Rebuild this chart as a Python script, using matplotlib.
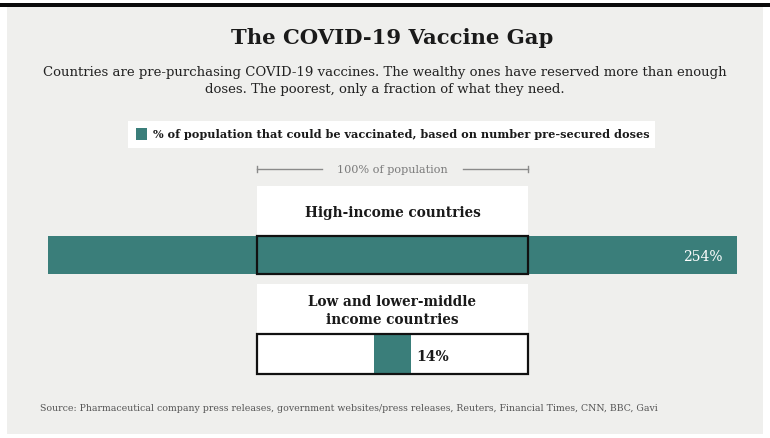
'''
COVID-19 疫苗缺口 图表
'''
import matplotlib
matplotlib.use("Agg")
import matplotlib.pyplot as plt
from matplotlib.patches import Rectangle
import numpy as np

# 数据
groups = ["High-income countries", "Low and lower-middle\nincome countries"]
pct = np.array([254, 14])
legend_label = "% of population that could be vaccinated, based on number pre-secured doses"
ref_label = "100% of population"
title = "The COVID-19 Vaccine Gap"
subtitle = ("Countries are pre-purchasing COVID-19 vaccines. The wealthy ones have reserved more than enough\n"
            "doses. The poorest, only a fraction of what they need.")
source = ("Source: Pharmaceutical company press releases, government websites/press releases, "
          "Reuters, Financial Times, CNN, BBC, Gavi")

teal = "#3a7e7a"
bg = "#efefed"
plt.rcParams['font.family'] = ['DejaVu Serif']

W, H = 770, 439
CX = 392.5          # 中心像素
UNIT = 271 / 100.0  # 每 1% 对应的像素

def px(x):
    # 像素 -> 百分比坐标
    return (x - CX) / UNIT

fig = plt.figure(figsize=(W / 100, H / 100), dpi=100)
fig.patch.set_facecolor("white")
ax = fig.add_axes([0, 0, 1, 1])
ax.set_xlim(px(0), px(W))
ax.set_ylim(H, 0)
ax.axis("off")

# 背景面板 和 顶部黑线
ax.add_patch(Rectangle((px(7), 8), px(763) - px(7), 427, facecolor=bg, edgecolor="none", zorder=0))
ax.add_patch(Rectangle((px(0), 3.5), px(W) - px(0), 4, facecolor="#0a0a0a", edgecolor="none", zorder=1))

# 标题
ax.text(0, 38, title, ha="center", va="center", fontsize=15.2, fontweight="bold", color="#1a1a1a")
ax.text(px(385), 81, subtitle, ha="center", va="center", fontsize=9.5, color="#222222",
        linespacing=1.45)

# 图例
ax.add_patch(Rectangle((px(128), 122), px(655) - px(128), 27, facecolor="white", edgecolor="none", zorder=1))
ax.add_patch(Rectangle((px(136), 129), px(147) - px(136), 12, facecolor=teal, edgecolor="none", zorder=2))
ax.text(px(153), 135, legend_label, ha="left", va="center", fontsize=8.1, fontweight="bold",
        color="#1a1a1a", zorder=3)

# 100% 标尺
gray = "#8a8a8a"
ax.plot([-50, px(322)], [170, 170], color=gray, lw=1)
ax.plot([px(463), 50], [170, 170], color=gray, lw=1)
ax.plot([-50, -50], [167, 173], color=gray, lw=1)
ax.plot([50, 50], [167, 173], color=gray, lw=1)
ax.text(0, 170, ref_label, ha="center", va="center", fontsize=8.1, color="#7a7a7a")

# 各组
row_y = [256, 355]
row_h = [38, 40]
label_top = [187, 285]
for i in range(len(groups)):
    y = row_y[i]
    h = row_h[i]
    # 标签的白色底
    ax.add_patch(Rectangle((-50, label_top[i]), 100, (y - h / 2) - label_top[i],
                           facecolor="white", edgecolor="none", zorder=1))
    ax.text(0, (label_top[i] + y - h / 2) / 2 + 1, groups[i], ha="center", va="center",
            fontsize=9.8, fontweight="bold", color="#1a1a1a", linespacing=1.4, zorder=3)
    # 100% 白色框
    ax.barh(y, 100, left=-50, height=h, color="white", zorder=2)
    # 数据条
    ax.barh(y, pct[i], left=-pct[i] / 2, height=h, color=teal, zorder=3)
    # 黑色边框
    ax.barh(y, 100, left=-50, height=h, fill=False, edgecolor="#111111", lw=1.6, zorder=4)
    # 数值
    if pct[i] > 100:
        ax.text(pct[i] / 2 - 14 / UNIT, y + 1, "%d%%" % pct[i], ha="right", va="center",
                fontsize=10, color="white", zorder=5)
    else:
        ax.text(pct[i] / 2 + 5 / UNIT, y + 2, "%d%%" % pct[i], ha="left", va="center",
                fontsize=10, fontweight="bold", color="#1a1a1a", zorder=5)

# 来源
ax.text(px(40), 409, source, ha="left", va="center", fontsize=6.75, color="#555555")

fig.savefig("out.png", dpi=100, facecolor="white")
